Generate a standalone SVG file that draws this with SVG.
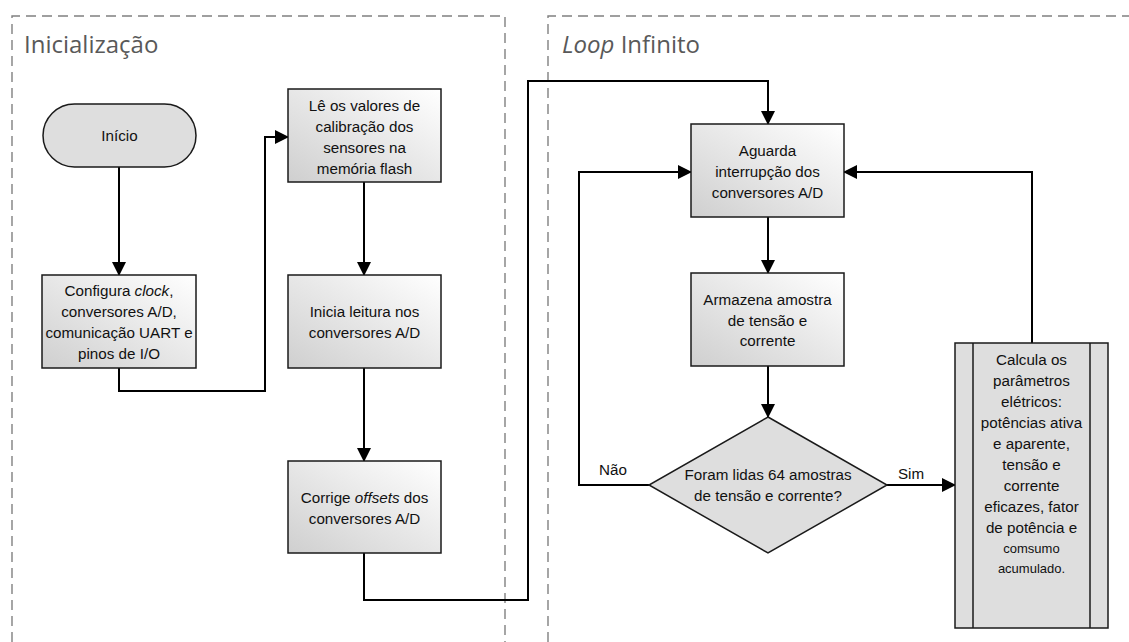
<svg xmlns="http://www.w3.org/2000/svg" width="1129" height="642" viewBox="0 0 1129 642">
<defs>
<linearGradient id="g" x1="1" y1="0" x2="0" y2="1">
<stop offset="0" stop-color="#ffffff"/>
<stop offset="1" stop-color="#cfcfcf"/>
</linearGradient>
<marker id="arr" markerUnits="userSpaceOnUse" markerWidth="14" markerHeight="14" viewBox="0 0 14 14" refX="13" refY="7" orient="auto">
<path d="M0,0 L14,7 L0,14 Z" fill="#000"/>
</marker>
<style>
.panel{fill:none;stroke:#808080;stroke-width:1.4;stroke-dasharray:10,6}
.title{font-family:"Open Sans","Noto Sans",sans-serif;font-size:24px;fill:#595959}
.box{fill:url(#g);stroke:#1a1a1a;stroke-width:1.5}
.solid{fill:#dedede;stroke:#1a1a1a;stroke-width:1.5}
.t{font-family:"Liberation Sans",Arial,sans-serif;font-size:15.2px;fill:#111;text-anchor:middle}
.ts{font-family:"Liberation Sans",Arial,sans-serif;font-size:13px;fill:#111;text-anchor:middle}
.c{fill:none;stroke:#000;stroke-width:2}
</style>
</defs>
<rect width="1129" height="642" fill="#fff"/>
<g id="panels">
<path class="panel" d="M12,642 V16 H505 V642"/>
<path class="panel" d="M548,642 V16 H1129"/>
<text class="title" x="24" y="53">Inicialização</text>
<text class="title" x="562" y="53"><tspan font-style="italic">Loop</tspan> Infinito</text>
</g>
<g id="connectors">
<path class="c" d="M119,167 V275" marker-end="url(#arr)"/>
<path class="c" d="M119,368 V391 H265 V137 H288" marker-end="url(#arr)"/>
<path class="c" d="M364,182 V275" marker-end="url(#arr)"/>
<path class="c" d="M364,368 V461" marker-end="url(#arr)"/>
<path class="c" d="M364,553 V600 H528 V81 H768 V124" marker-end="url(#arr)"/>
<path class="c" d="M768,217 V273" marker-end="url(#arr)"/>
<path class="c" d="M768,366 V417" marker-end="url(#arr)"/>
<path class="c" d="M649,485 H579 V172 H691" marker-end="url(#arr)"/>
<path class="c" d="M887,485 H955" marker-end="url(#arr)"/>
<path class="c" d="M1032,343 V172 H844" marker-end="url(#arr)"/>
<text class="t" x="613" y="475">Não</text>
<text class="t" x="911" y="479">Sim</text>
</g>
<g id="inicio">
<rect class="solid" x="43" y="104" width="153" height="63" rx="31.5"/>
<text class="t" x="119.5" y="141">Início</text>
</g>
<g id="configura">
<rect class="box" x="42" y="275" width="154" height="93"/>
<text class="t" x="119" y="296">Configura <tspan font-style="italic">clock</tspan>,</text>
<text class="t" x="119" y="317">conversores A/D,</text>
<text class="t" x="119" y="338">comunicação UART e</text>
<text class="t" x="119" y="359">pinos de I/O</text>
</g>
<g id="le">
<rect class="box" x="288" y="89" width="153" height="93"/>
<text class="t" x="364.5" y="111">Lê os valores de</text>
<text class="t" x="364.5" y="132">calibração dos</text>
<text class="t" x="364.5" y="153">sensores na</text>
<text class="t" x="364.5" y="174">memória flash</text>
</g>
<g id="inicia">
<rect class="box" x="288" y="275" width="153" height="93"/>
<text class="t" x="364.5" y="317">Inicia leitura nos</text>
<text class="t" x="364.5" y="338">conversores A/D</text>
</g>
<g id="corrige">
<rect class="box" x="288" y="461" width="153" height="92"/>
<text class="t" x="364.5" y="503">Corrige <tspan font-style="italic">offsets</tspan> dos</text>
<text class="t" x="364.5" y="524">conversores A/D</text>
</g>
<g id="aguarda">
<rect class="box" x="691" y="124" width="153" height="93"/>
<text class="t" x="767.5" y="156">Aguarda</text>
<text class="t" x="767.5" y="177">interrupção dos</text>
<text class="t" x="767.5" y="198">conversores A/D</text>
</g>
<g id="armazena">
<rect class="box" x="691" y="273" width="153" height="93"/>
<text class="t" x="767.5" y="305">Armazena  amostra</text>
<text class="t" x="767.5" y="326">de tensão e</text>
<text class="t" x="767.5" y="346">corrente</text>
</g>
<g id="decisao">
<polygon class="solid" points="768,417 887,485 768,553 649,485"/>
<text class="t" x="768" y="480">Foram lidas 64 amostras</text>
<text class="t" x="768" y="501">de tensão e corrente?</text>
</g>
<g id="calcula">
<rect class="solid" x="955" y="343" width="153" height="285"/>
<line x1="973" y1="343" x2="973" y2="628" stroke="#1a1a1a" stroke-width="1.5"/>
<line x1="1090" y1="343" x2="1090" y2="628" stroke="#1a1a1a" stroke-width="1.5"/>
<text class="t" x="1031.5" y="365">Calcula os</text>
<text class="t" x="1031.5" y="386">parâmetros</text>
<text class="t" x="1031.5" y="407">elétricos:</text>
<text class="t" x="1031.5" y="428">potências ativa</text>
<text class="t" x="1031.5" y="449">e aparente,</text>
<text class="t" x="1031.5" y="470">tensão e</text>
<text class="t" x="1031.5" y="491">corrente</text>
<text class="t" x="1031.5" y="512">eficazes, fator</text>
<text class="t" x="1031.5" y="533">de potência e</text>
<text class="ts" x="1031.5" y="553">comsumo</text>
<text class="ts" x="1031.5" y="573">acumulado.</text>
</g>
</svg>
